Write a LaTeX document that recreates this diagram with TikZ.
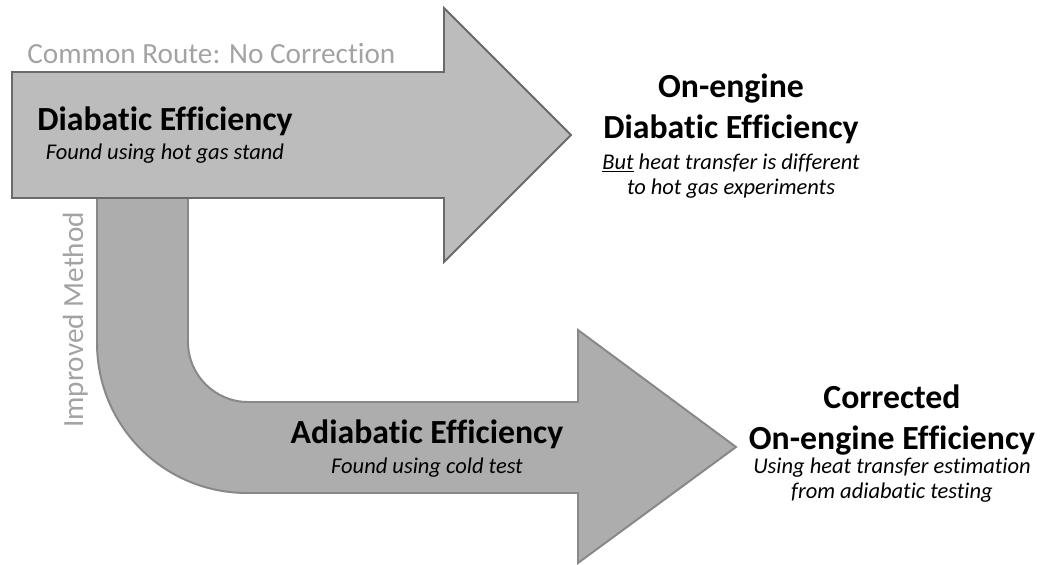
\documentclass[tikz,border=0pt]{standalone}
\usepackage{fontspec}
\setmainfont{Carlito}[Ligatures=NoCommon]
\usepackage{xcolor}
\usetikzlibrary{positioning}

\definecolor{topfill}{HTML}{BCBCBC}
\definecolor{bentfill}{HTML}{ADADAD}
\definecolor{edgegray}{HTML}{6A6A6A}
\definecolor{routegray}{HTML}{A3A3A3}

\begin{document}
\begin{tikzpicture}[
    x=0.025cm, y=-0.025cm,
    bigarrow/.style={draw=edgegray, line width=1.4pt, line join=miter},
    title/.style={font=\fontsize{24}{29}\selectfont\bfseries, inner sep=0pt, align=center},
    sub/.style={font=\fontsize{16}{18}\selectfont\itshape, inner sep=0pt, align=center},
    route/.style={font=\fontsize{20.8}{24}\selectfont, text=routegray, inner sep=0pt},
]
\useasboundingbox (0,0) rectangle (1041,565);

% Improved route (drawn first, sits behind)
\draw[bigarrow, fill=bentfill, draw=edgegray!80]
    (188,190) -- (188,342) .. controls (188,375) and (215,402) .. (248,402)
    -- (578,402) -- (578,330) -- (736,447) -- (578,563) -- (578,493)
    -- (247,493) .. controls (164,493) and (97,426) .. (97,343) -- (97,190) -- cycle;

% Common route
\draw[bigarrow, fill=topfill]
    (12,72) -- (444,72) -- (444,8) -- (571,135) -- (444,262) -- (444,198) -- (12,198) -- cycle;

% Route labels
\node[route, anchor=base west] (common) at (27,64) {Common Route: No Correction};
\node[route, rotate=90, anchor=base] (improved) at (83,320) {Improved Method};

% Arrow texts
\node[title] (diab) at (165,121) {Diabatic Efficiency};
\node[sub] (diabsub) at (165,154) {Found using hot gas stand};

\node[title] (adiab) at (427,434) {Adiabatic Efficiency};
\node[sub] (adiabsub) at (427,468) {Found using cold test};

% Results
\node[title] (onengine) at (731,109) {On-engine\\Diabatic Efficiency};
\node[sub] (onenginesub) at (731,176) {\underline{But} heat transfer is different\\to hot gas experiments};

\node[title] (corrected) at (892,420) {Corrected\\On-engine Efficiency};
\node[sub] (correctedsub) at (892,480) {Using heat transfer estimation\\from adiabatic testing};
\end{tikzpicture}
\end{document}
